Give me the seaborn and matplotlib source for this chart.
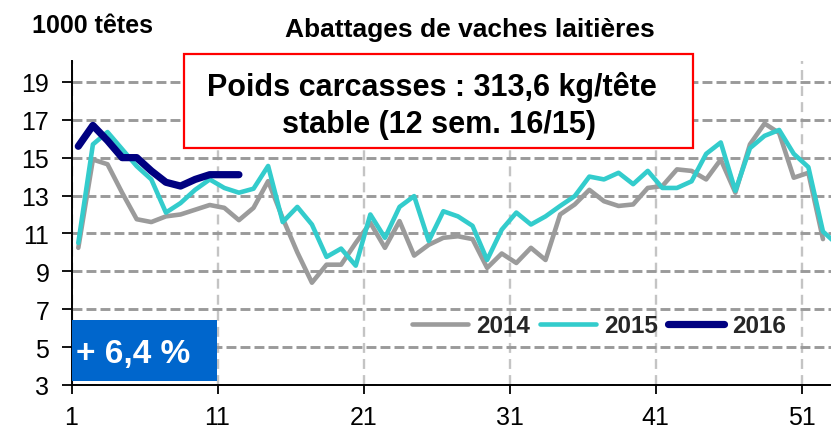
import numpy as np
import pandas as pd
import matplotlib
matplotlib.use("Agg")
import matplotlib.pyplot as plt
import seaborn as sns
from matplotlib.patches import Rectangle

# ---------------- data ----------------
title = "Abattages de vaches laitières"
unit_label = "1000 têtes"
box_line1 = "Poids carcasses : 313,6 kg/tête"
box_line2 = "stable (12 sem. 16/15)"
change_label = "+ 6,4 %"

years = ["2014", "2015", "2016"]

vals_2014 = [10.24, 14.9, 14.65, 13.15, 11.75, 11.6, 11.9, 12.0, 12.25, 12.5,
             12.35, 11.7, 12.35, 13.76, 11.8, 10.0, 8.4, 9.35, 9.35, 10.5,
             11.56, 10.24, 11.65, 9.83, 10.4, 10.77, 10.85, 10.7, 9.18, 9.94,
             9.44, 10.24, 9.6, 12.0, 12.53, 13.3, 12.7, 12.45, 12.53, 13.4,
             13.5, 14.38, 14.3, 13.85, 14.9, 13.15, 15.7, 16.8, 16.3, 13.94,
             14.2, 10.7]
vals_2015 = [10.5, 15.7, 16.35, 15.45, 14.55, 13.85, 12.1, 12.6, 13.3, 13.85,
             13.4, 13.15, 13.36, 14.56, 11.6, 12.4, 11.47, 9.76, 10.2, 9.3,
             12.0, 10.77, 12.4, 12.97, 10.6, 12.17, 11.9, 11.4, 9.6, 11.2,
             12.1, 11.47, 11.9, 12.45, 12.97, 14.0, 13.85, 14.2, 13.6, 14.3,
             13.4, 13.4, 13.75, 15.2, 15.8, 13.25, 15.5, 16.15, 16.46, 15.2,
             14.5, 11.1, 10.4]
vals_2016 = [15.6, 16.7, 15.9, 15.0, 15.0, 14.3, 13.7, 13.5, 13.85, 14.1,
             14.1, 14.1]

y_ticks = [3, 5, 7, 9, 11, 13, 15, 17, 19]
x_tick_weeks = [1, 11, 21, 31, 41, 51]

series = {"2014": vals_2014, "2015": vals_2015, "2016": vals_2016}
rows = []
for yr in years:
    for i, v in enumerate(series[yr]):
        rows.append({"semaine": i + 1, "abattages": v, "annee": yr})
df = pd.DataFrame(rows)

# ---------------- style ----------------
colors = {"2014": "#9b9b9b", "2015": "#33cccc", "2016": "#000080"}
widths = {"2014": 3.3, "2015": 3.3, "2016": 5.2}
zorders = {"2014": 3, "2015": 4, "2016": 5}

sns.set_theme(style="white")
plt.rcParams["font.family"] = ["Liberation Sans", "DejaVu Sans"]

W, H = 831, 431
fig = plt.figure(figsize=(W / 100, H / 100), dpi=100)
ax_left, ax_right, ax_top, ax_bottom = 71.5, 831, 62, 386
ax = fig.add_axes([ax_left / W, 1 - ax_bottom / H,
                   (ax_right - ax_left) / W, (ax_bottom - ax_top) / H])

for yr in years:
    sub = df[df["annee"] == yr]
    sns.lineplot(data=sub, x="semaine", y="abattages", color=colors[yr],
                 linewidth=widths[yr], ax=ax, label=yr, zorder=zorders[yr],
                 solid_capstyle="round", solid_joinstyle="round")

offset = 0.466  # category labels sit on the tick marks left of each week
ax.set_xlim(1 - offset, 52.55)
ax.set_ylim(3, 20.1)
ax.set_xticks([w - offset for w in x_tick_weeks])
ax.set_xticklabels([str(w) for w in x_tick_weeks])
ax.set_yticks(y_ticks)
ax.set_yticklabels([str(v) for v in y_ticks])
ax.set_xlabel("")
ax.set_ylabel("")

ax.yaxis.grid(True, color="#9a9a9a", linewidth=2.1, linestyle=(0, (3.4, 1.4)), zorder=0)
ax.xaxis.grid(True, color="#c4c4c4", linewidth=1.7, linestyle=(0, (4.2, 2.6)), zorder=0)
ax.set_axisbelow(True)

for s in ["top", "right"]:
    ax.spines[s].set_visible(False)
for s in ["left", "bottom"]:
    ax.spines[s].set_color("black")
    ax.spines[s].set_linewidth(1.4)
    ax.spines[s].set_zorder(6)

ax.tick_params(axis="y", direction="out", length=7, width=1.3, color="black",
               pad=9, labelsize=18, labelcolor="black", left=True)
ax.tick_params(axis="x", direction="out", length=6.5, width=1.3, color="black",
               pad=8, labelsize=18, labelcolor="black", bottom=True)

# legend
handles, labels = ax.get_legend_handles_labels()
ax.get_legend().remove()
fig.legend(handles, labels, loc="center", bbox_to_anchor=(599 / W, 1 - 327 / H),
           ncol=3, frameon=False, prop={"weight": "bold", "size": 17.5},
           handlelength=2.3, handletextpad=0.3, columnspacing=0.45,
           borderpad=0, borderaxespad=0)

# titles
fig.text(470 / W, 1 - 36.5 / H, title, ha="center", va="baseline",
         fontsize=19, fontweight="bold", color="black")
fig.text(32 / W, 1 - 33 / H, unit_label, ha="left", va="baseline",
         fontsize=18, fontweight="bold", color="black")

# red annotation box
fig.add_artist(Rectangle((184 / W, 1 - 149 / H), (693 - 184) / W, (149 - 55) / H,
                         transform=fig.transFigure, facecolor="white",
                         edgecolor="#ff0000", linewidth=1.6, zorder=10))
fig.text(432 / W, 1 - 96 / H, box_line1, ha="center", va="baseline",
         fontsize=22, fontweight="bold", color="black", zorder=11)
fig.text(438.5 / W, 1 - 132.5 / H, box_line2, ha="center", va="baseline",
         fontsize=22, fontweight="bold", color="black", zorder=11)

# blue change box
fig.add_artist(Rectangle((71.5 / W, 1 - 381.7 / H), (216.5 - 71.5) / W, (381.7 - 320.7) / H,
                         transform=fig.transFigure, facecolor="#0066cc",
                         edgecolor="none", zorder=10))
fig.text(133 / W, 1 - 363 / H, change_label, ha="center", va="baseline",
         fontsize=24, fontweight="bold", color="white", zorder=11)

fig.savefig("out.png", dpi=100)
